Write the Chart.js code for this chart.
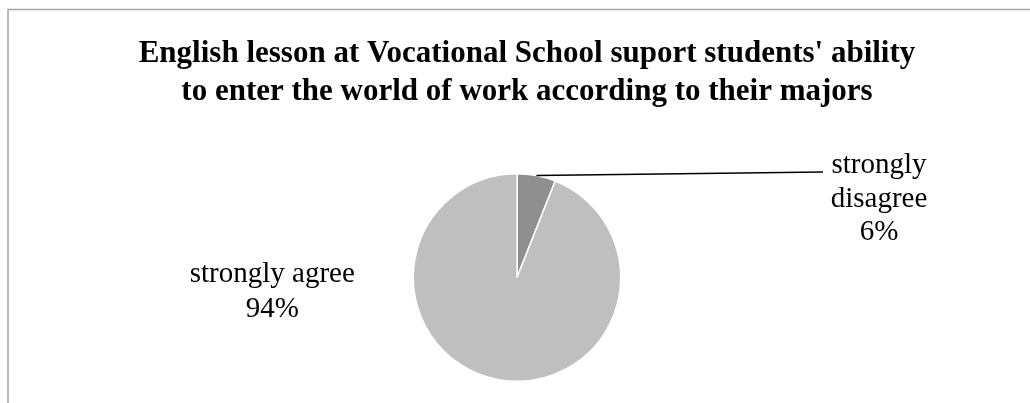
<!DOCTYPE html>
<html>
<head>
<meta charset="utf-8">
<script src="https://cdn.jsdelivr.net/npm/chart.js@4.4.0/dist/chart.umd.min.js"></script>
<style>
  html, body { margin: 0; padding: 0; background: #fff; }
  #wrap { position: relative; width: 1030px; height: 403px; }
</style>
</head>
<body>
<div id="wrap"><canvas id="pie" width="1030" height="403"></canvas></div>
<script>
const titleLines = [
    "English lesson at Vocational School suport students' ability",
    "to enter the world of work according to their majors"
];
const categories = ["strongly disagree", "strongly agree"];
const shares = [6, 94];
const colours = ["#8f8f8f", "#bfbfbf"];

const serif = "'Liberation Serif', 'Times New Roman', serif";

const frameAndText = {
    id: "frameAndText",
    beforeDraw(chart) {
        const c = chart.ctx;
        c.save();
        c.strokeStyle = "#a6a6a6";
        c.lineWidth = 1.5;
        c.beginPath();
        c.moveTo(8, 410);
        c.lineTo(8, 9.5);
        c.lineTo(1040, 9.5);
        c.stroke();

        c.fillStyle = "#000";
        c.font = "bold 31px " + serif;
        c.textAlign = "center";
        c.textBaseline = "alphabetic";
        c.fillText(titleLines[0], 527, 62);
        c.fillText(titleLines[1], 527, 100);
        c.restore();
    },
    afterDatasetsDraw(chart) {
        const c = chart.ctx;
        const arcs = chart.getDatasetMeta(0).data;
        c.save();
        c.font = "29px " + serif;
        c.fillStyle = "#000";
        c.textAlign = "center";
        c.textBaseline = "middle";

        // small slice: leader line out to the right
        const a0 = arcs[0];
        const mid0 = (a0.startAngle + a0.endAngle) / 2;
        const sx = a0.x + Math.cos(mid0) * a0.outerRadius;
        const sy = a0.y + Math.sin(mid0) * a0.outerRadius;
        const ex = a0.x + 306, ey = a0.y - 105.5;
        c.strokeStyle = "#000";
        c.lineWidth = 1.5;
        c.beginPath();
        c.moveTo(sx, sy);
        c.lineTo(ex, ey);
        c.stroke();
        const lx = a0.x + 362;
        const words0 = categories[0].split(" ");
        c.fillText(words0[0], lx, a0.y - 112);
        c.fillText(words0[1], lx, a0.y - 78);
        c.fillText(shares[0] + "%", lx, a0.y - 45);

        // large slice: label to the left
        const a1 = arcs[1];
        const lx1 = a1.x - a1.outerRadius - 141;
        c.fillText(categories[1], lx1, a1.y - 3);
        c.fillText(shares[1] + "%", lx1, a1.y + 32);
        c.restore();
    }
};

new Chart(document.getElementById("pie"), {
    type: "pie",
    data: {
        labels: categories,
        datasets: [{
            data: shares,
            backgroundColor: colours,
            borderColor: "#ffffff",
            borderWidth: 1.5
        }]
    },
    options: {
        responsive: false,
        animation: false,
        layout: { padding: { top: 173, bottom: 21, left: 412, right: 408 } },
        plugins: {
            legend: { display: false },
            tooltip: { enabled: false },
            title: { display: false }
        }
    },
    plugins: [frameAndText]
});
</script>
</body>
</html>
